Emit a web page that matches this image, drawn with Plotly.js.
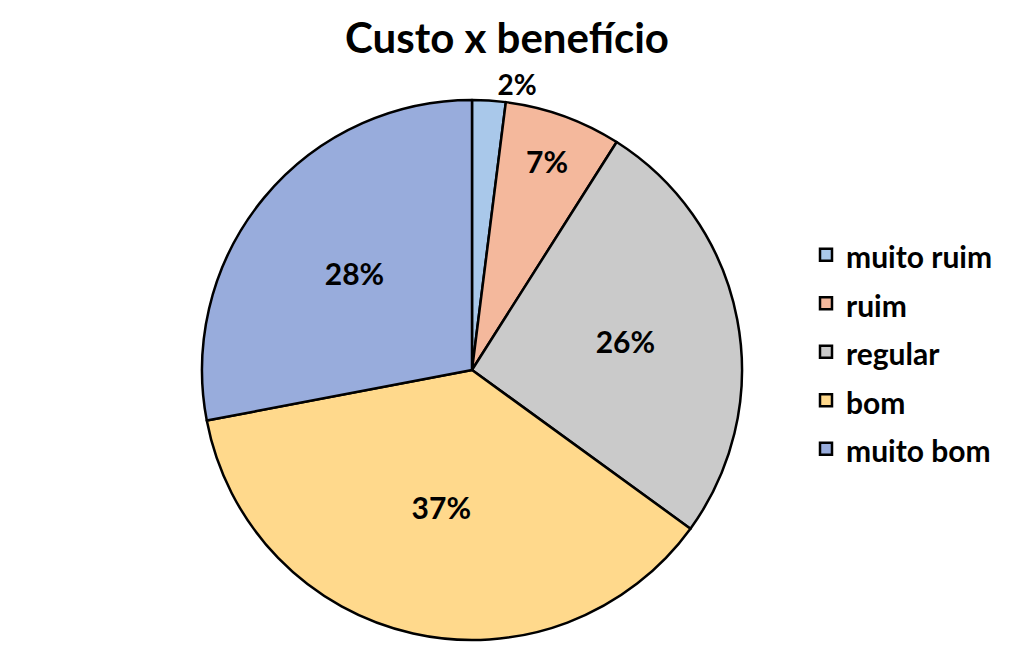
<!DOCTYPE html>
<html><head><meta charset="utf-8">
<script src="https://cdn.plot.ly/plotly-3.0.1.min.js"></script>
<style>html,body{margin:0;padding:0;background:#fff}</style>
</head><body>
<div id="chart" style="width:1024px;height:646px"></div>
<script>
const categories = ['muito ruim', 'ruim', 'regular', 'bom', 'muito bom'];
const values = [2, 7, 26, 37, 28];
const colors = ['#A9C8EA', '#F4B89C', '#CACACA', '#FFD98C', '#98ACDC'];
const textPositions = ['outside', 'inside', 'inside', 'inside', 'inside'];

const labels = categories.map(c => '<span style="font-size:30px">' + c + '</span>');

const trace = {
  type: 'pie',
  labels: labels,
  values: values,
  sort: false,
  direction: 'clockwise',
  rotation: 0,
  marker: {colors: colors, line: {color: '#000', width: 2.5}},
  textinfo: 'percent',
  texttemplate: '%{percent:.0%}',
  textposition: textPositions,
  insidetextorientation: 'horizontal',
  textfont: {family: 'Lato, sans-serif', size: 30, color: '#000', weight: 'bold'},
  outsidetextfont: {family: 'Lato, sans-serif', size: 28, color: '#000', weight: 'bold'},
  domain: {x: [202/1024, 742/1024], y: [1 - 640/646, 1 - 100/646]},
  automargin: false,
  hoverinfo: 'label+percent'
};

const layout = {
  width: 1024, height: 646,
  margin: {l: 0, r: 0, t: 0, b: 0},
  paper_bgcolor: '#fff',
  font: {family: 'Lato, sans-serif', color: '#000'},
  title: {
    text: 'Custo x benefício',
    font: {family: 'Lato, sans-serif', size: 42, color: '#000', weight: 'bold'},
    x: 507/1024, xanchor: 'center',
    y: 1 - 38/646, yanchor: 'middle'
  },
  showlegend: true,
  legend: {
    x: 806/1024, xanchor: 'left',
    y: 1 - 352/646, yanchor: 'middle',
    font: {family: 'Lato, sans-serif', size: 35, color: '#000', weight: 'bold'},
    bgcolor: 'rgba(0,0,0,0)'
  }
};

Plotly.newPlot('chart', [trace], layout, {displayModeBar: false, staticPlot: true});
</script>
</body></html>
